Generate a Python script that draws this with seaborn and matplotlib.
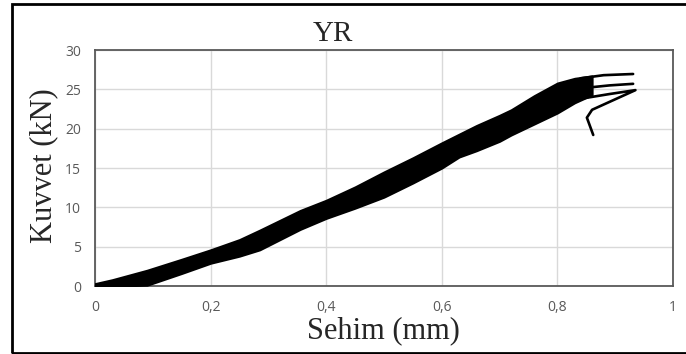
import numpy as np
import pandas as pd
import matplotlib
matplotlib.use("Agg")
import matplotlib.pyplot as plt
import seaborn as sns
from matplotlib.ticker import FuncFormatter
from matplotlib.patches import Rectangle

# ---- data ----
band_x     = [0.0, 0.03, 0.09, 0.15, 0.20, 0.25, 0.285, 0.355, 0.40, 0.45, 0.50, 0.55, 0.60, 0.63, 0.66, 0.70, 0.72, 0.76, 0.80, 0.83, 0.86]
band_upper = [0.3, 0.8, 2.0, 3.4, 4.6, 5.9, 7.1, 9.6, 10.9, 12.6, 14.5, 16.3, 18.2, 19.3, 20.4, 21.7, 22.4, 24.2, 25.8, 26.4, 26.7]
band_lower = [0.0, 0.0, 0.1, 1.6, 2.9, 3.8, 4.6, 7.2, 8.6, 9.9, 11.3, 13.1, 15.0, 16.4, 17.2, 18.4, 19.2, 20.6, 22.0, 23.3, 24.3]

tip_a_x = [0.84, 0.88, 0.931]
tip_a_y = [26.4, 26.8, 26.95]
tip_b_x = [0.85, 0.89, 0.931]
tip_b_y = [25.2, 25.5, 25.7]
tip_c_x = [0.84, 0.89, 0.935, 0.860, 0.851, 0.862]
tip_c_y = [23.8, 24.4, 24.9, 22.4, 21.4, 19.2]

x_ticks = [0, 0.2, 0.4, 0.6, 0.8, 1.0]
y_ticks = [0, 5, 10, 15, 20, 25, 30]

title_text = "YR"
x_label = "Sehim (mm)"
y_label = "Kuvvet (kN)"

tips = pd.concat([
    pd.DataFrame({"x": tip_a_x, "y": tip_a_y, "branch": "a"}),
    pd.DataFrame({"x": tip_b_x, "y": tip_b_y, "branch": "b"}),
    pd.DataFrame({"x": tip_c_x, "y": tip_c_y, "branch": "c"}),
], ignore_index=True)

sns.set_style("white")
W, H = 686, 354
fig = plt.figure(figsize=(W / 100, H / 100), dpi=100)
ax = fig.add_axes([95 / W, 1 - 286 / H, (673 - 95) / W, (286 - 50) / H])

ax.fill_between(band_x, band_lower, band_upper, color="black", lw=1.5, zorder=3)
sns.lineplot(data=tips, x="x", y="y", units="branch", estimator=None, sort=False,
             color="black", lw=1.9, ax=ax, zorder=3, legend=False)

ax.set_xlim(0, 1)
ax.set_ylim(0, 30)
ax.set_xticks(x_ticks)
ax.set_yticks(y_ticks)

def comma(v, pos):
    s = f"{v:g}"
    return s.replace(".", ",")

ax.xaxis.set_major_formatter(FuncFormatter(comma))
ax.yaxis.set_major_formatter(FuncFormatter(comma))
ax.grid(True, color="#d9d9d9", lw=1.0, zorder=0)
ax.set_axisbelow(True)
for s in ax.spines.values():
    s.set_color("#595959")
    s.set_linewidth(1.3)
ax.tick_params(axis="y", length=0, labelsize=10, labelcolor="#595959", pad=10)
ax.tick_params(axis="x", length=0, labelsize=10, labelcolor="#595959", pad=10)
for lab in ax.get_xticklabels() + ax.get_yticklabels():
    lab.set_fontfamily("Open Sans")
ax.set_xlabel("")
ax.set_ylabel("")

serif = ["Liberation Serif", "DejaVu Serif"]
fig.text(333 / W, 1 - 34 / H, title_text, ha="center", va="center", fontsize=21, family=serif)
fig.text(383 / W, 1 - 338 / H, x_label, ha="center", va="baseline", fontsize=22, family=serif)
fig.text(44 / W, 1 - 166 / H, y_label, ha="center", va="center", rotation=90, fontsize=22, family=serif)

fig.patches.append(Rectangle((12 / W, 1 - 353 / H), 1.2, (353 - 4) / H, transform=fig.transFigure,
                             fill=False, edgecolor="black", lw=2.0))

fig.savefig("out.png", dpi=100)
